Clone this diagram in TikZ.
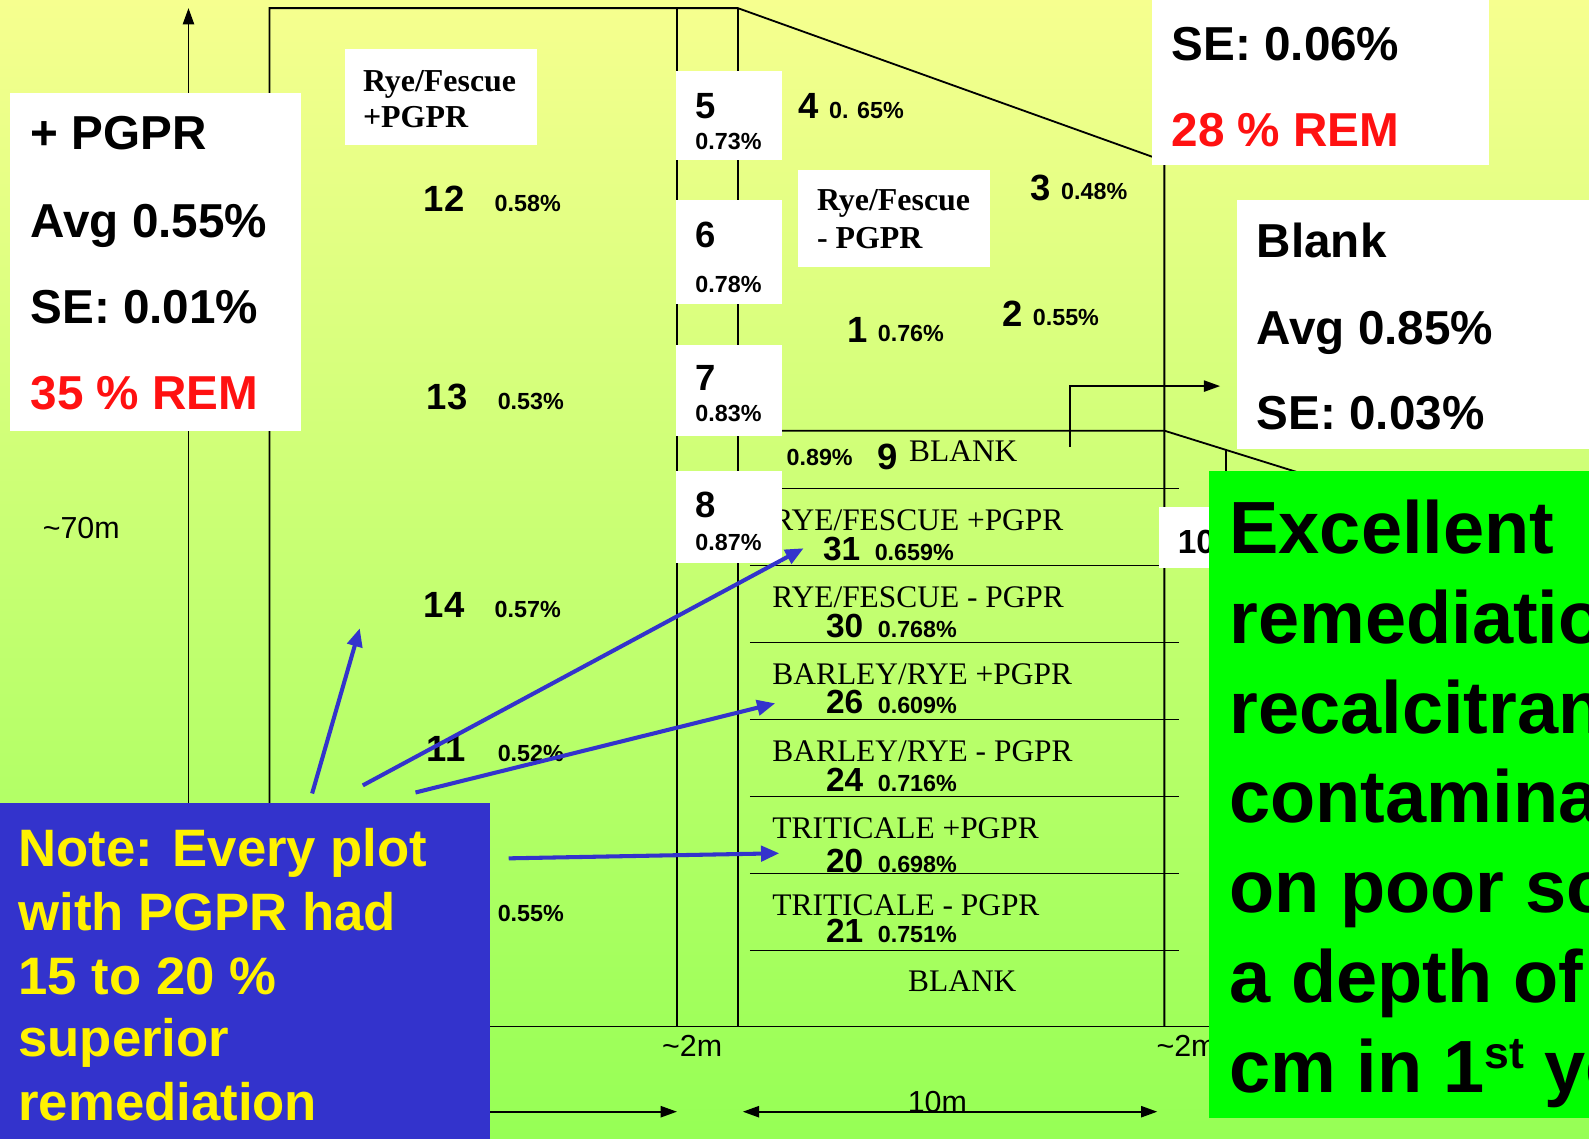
\documentclass[tikz,border=0pt]{standalone}
\usepackage{fontspec}
\setmainfont{Liberation Serif}
\newfontfamily\arialf{Liberation Sans}
\usetikzlibrary{arrows.meta}
\definecolor{bgtop}{RGB}{246,255,143}
\definecolor{bgmid}{RGB}{208,255,118}
\definecolor{bgbot}{RGB}{150,255,85}
\definecolor{noteblue}{RGB}{51,51,204}
\definecolor{remred}{RGB}{255,17,17}
\definecolor{exgreen}{RGB}{0,255,0}
\begin{document}
\begin{tikzpicture}[x=1pt,y=-1pt,
  plan/.style={line width=1.8pt,draw=black},
  wbox/.style={fill=white,draw=none,inner sep=0pt,anchor=north west},
  big/.style={font=\arialf\bfseries\fontsize{47}{50}\selectfont,anchor=base west,inner sep=0pt},
  num/.style={font=\arialf\bfseries\fontsize{36}{38}\selectfont,anchor=base west,inner sep=0pt},
  rnum/.style={font=\arialf\bfseries\fontsize{33}{35}\selectfont,anchor=base west,inner sep=0pt},
  pct/.style={font=\arialf\bfseries\fontsize{23}{25}\selectfont,anchor=base west,inner sep=0pt},
  rowlab/.style={font=\fontsize{31}{33}\selectfont,anchor=base west,inner sep=0pt},
  boxlab/.style={font=\bfseries\fontsize{31.5}{34}\selectfont,anchor=base west,inner sep=0pt},
  dimlab/.style={font=\arialf\fontsize{30}{32}\selectfont,inner sep=0pt},
  notetxt/.style={font=\arialf\bfseries\fontsize{52}{55}\selectfont,text=yellow,anchor=base west,inner sep=0pt},
  exc/.style={font=\arialf\bfseries\fontsize{73}{80}\selectfont,anchor=base west,inner sep=0pt},
  barrow/.style={draw=noteblue,line width=4pt,-{Triangle[length=18pt,width=15pt]}},
  karrow/.style={line width=1.8pt,-{Triangle[length=16pt,width=11pt]}},
  kdarrow/.style={line width=1.8pt,{Triangle[length=16pt,width=11pt]}-{Triangle[length=16pt,width=11pt]}},
]
\useasboundingbox (0,0) rectangle (1568,1123);
\clip (0,0) rectangle (1568,1123);
\shade[top color=bgtop, middle color=bgmid, bottom color=bgbot] (0,0) rectangle (1568,1123);

% ---- field plan lines
\coordinate (tl) at (266,8);
\coordinate (tm) at (728,8);
\coordinate (dr) at (1149,159);
\draw[plan] (266,1013) -- (tl) -- (tm) -- (dr) -- (1149,1013);
\draw[plan] (668,8) -- (668,1013);
\draw[plan] (728,8) -- (728,1013);
\draw[plan] (266,1013) -- (1240,1013);
\draw[plan] (728,425) -- (1149,425) -- (1290,469);
\draw[plan] (1210,444) -- (1210,470);
\foreach \yy in {482,558,634,710,786,862,938}
  \draw[plan] (740,\yy) -- (1163,\yy);

% ---- dimension arrows
\coordinate (vbot) at (186,1110);
\coordinate (vtop) at (186,8);
\draw[karrow] (vbot) -- (vtop);
\coordinate (hl) at (270,1097);
\coordinate (hr) at (668,1097);
\draw[karrow] (hl) -- (hr);
\coordinate (tl2) at (733,1097);
\coordinate (tr2) at (1142,1097);
\draw[kdarrow] (tl2) -- (tr2);
\node[dimlab,anchor=base west] (d70) at (42,531) {\textasciitilde70m};
\node[dimlab,anchor=base] (d2a) at (683,1043) {\textasciitilde2m};
\node[dimlab,anchor=base west] (d2b) at (1141,1043) {\textasciitilde2m};
\node[dimlab,anchor=base] (d10) at (925,1098) {10m};

% ---- blank arrow
\coordinate (bk1) at (1056,441);
\coordinate (bk2) at (1056,381);
\coordinate (bk3) at (1204,381);
\draw[karrow] (bk1) -- (bk2) -- (bk3);

% ---- white boxes
\node[wbox,minimum width=287pt,minimum height=333pt] (pbox) at (10,92) {};
\node[big] (p1) at (30,148) {+ PGPR};
\node[big] (p2) at (30,234) {Avg 0.55\%};
\node[big] (p3) at (30,319) {SE: 0.01\%};
\node[big,text=remred] (p4) at (30,404) {35 \% REM};

\node[wbox,minimum width=190pt,minimum height=95pt] (rfp) at (340,48) {};
\node[boxlab] (rfp1) at (358,90) {Rye/Fescue};
\node[boxlab] (rfp2) at (358,126) {+PGPR};

\node[wbox,minimum width=190pt,minimum height=95pt] (rfm) at (787,168) {};
\node[boxlab] (rfm1) at (806,208) {Rye/Fescue};
\node[boxlab] (rfm2) at (806,245) {- PGPR};

\node[wbox,minimum width=332pt,minimum height=170pt] (sebox) at (1137,-7) {};
\node[big] (se1) at (1156,60) {SE: 0.06\%};
\node[big,text=remred] (se2) at (1156,145) {28 \% REM};

\node[wbox,minimum width=380pt,minimum height=246pt] (blbox) at (1220,197) {};
\node[big] (bl1) at (1240,254) {Blank};
\node[big] (bl2) at (1240,340) {Avg 0.85\%};
\node[big] (bl3) at (1240,424) {SE: 0.03\%};

\node[wbox,minimum width=104pt,minimum height=88pt] (b5) at (667,70) {};
\node[num] (n5) at (686,117) {5};
\node[pct] (q5) at (686,148) {0.73\%};
\node[wbox,minimum width=104pt,minimum height=103pt] (b6) at (667,197) {};
\node[num] (n6) at (686,244) {6};
\node[pct] (q6) at (686,289) {0.78\%};
\node[wbox,minimum width=104pt,minimum height=90pt] (b7) at (667,340) {};
\node[num] (n7) at (686,385) {7};
\node[pct] (q7) at (686,416) {0.83\%};
\node[wbox,minimum width=104pt,minimum height=90pt] (b8) at (667,465) {};
\node[num] (n8) at (686,511) {8};
\node[pct] (q8) at (686,543) {0.87\%};

\node[wbox,minimum width=70pt,minimum height=60pt] (b10) at (1143,500) {};
\node[rnum] (n10) at (1162,546) {10};

% ---- plot numbers on background
\node[num] (n12) at (418,209) {12};  \node[pct] (q12) at (488,209) {0.58\%};
\node[num] (n13) at (421,404) {13};  \node[pct] (q13) at (491,404) {0.53\%};
\node[num] (n14) at (418,609) {14};  \node[pct] (q14) at (488,609) {0.57\%};
\node[num] (n11) at (421,751) {11};  \node[pct] (q11) at (491,751) {0.52\%};
\node[pct] (q15) at (491,909) {0.55\%};
\node[num] (n4) at (788,117) {4};    \node[pct] (q4) at (818,117) {0. 65\%};
\node[num] (n3) at (1017,198) {3};   \node[pct] (q3) at (1047,197) {0.48\%};
\node[num] (n1) at (836,338) {1};    \node[pct] (q1) at (866,337) {0.76\%};
\node[num] (n2) at (989,322) {2};    \node[pct] (q2) at (1019,321) {0.55\%};
\node[pct] (q9) at (776,459) {0.89\%};
\node[num] (n9) at (866,463) {9};
\node[rowlab] (r9) at (897,455) {BLANK};

% ---- strip rows
\begin{scope}
\clip (772,482) rectangle (1200,1013);
\node[rowlab] (r31) at (762,523) {RYE/FESCUE +PGPR};
\end{scope}
\node[rnum] (n31) at (812,553) {31};  \node[pct] (q31) at (863,553) {0.659\%};
\node[rowlab] (r30) at (762,599) {RYE/FESCUE - PGPR};
\node[rnum] (n30) at (815,629) {30};  \node[pct] (q30) at (866,629) {0.768\%};
\node[rowlab] (r26) at (762,675) {BARLEY/RYE +PGPR};
\node[rnum] (n26) at (815,704) {26};  \node[pct] (q26) at (866,704) {0.609\%};
\node[rowlab] (r24) at (762,751) {BARLEY/RYE - PGPR};
\node[rnum] (n24) at (815,781) {24};  \node[pct] (q24) at (866,781) {0.716\%};
\node[rowlab] (r20) at (762,827) {TRITICALE +PGPR};
\node[rnum] (n20) at (815,861) {20};  \node[pct] (q20) at (866,861) {0.698\%};
\node[rowlab] (r21) at (762,903) {TRITICALE - PGPR};
\node[rnum] (n21) at (815,930) {21};  \node[pct] (q21) at (866,930) {0.751\%};
\node[rowlab] (rbl) at (896,978) {BLANK};

% ---- blue arrows
\coordinate (a1s) at (308,783); \coordinate (a1e) at (355,620);
\coordinate (a2s) at (358,775); \coordinate (a2e) at (793,541);
\coordinate (a3s) at (410,782); \coordinate (a3e) at (765,694);
\coordinate (a4s) at (502,847); \coordinate (a4e) at (769,842);
\draw[barrow] (a1s) -- (a1e);
\draw[barrow] (a2s) -- (a2e);
\draw[barrow] (a3s) -- (a3e);
\draw[barrow] (a4s) -- (a4e);

% ---- note box
\node[fill=noteblue,draw=none,inner sep=0pt,anchor=north west,minimum width=483pt,minimum height=340pt] (notebox) at (0,792) {};
\node[notetxt] (t1) at (18,855) {Note: Every plot};
\node[notetxt] (t2) at (18,918) {with PGPR had};
\node[notetxt] (t3) at (18,981) {15 to 20 \%};
\node[notetxt] (t4) at (18,1043) {superior};
\node[notetxt] (t5) at (18,1106) {remediation};

% ---- green box
\node[fill=exgreen,draw=none,inner sep=0pt,anchor=north west,minimum width=400pt,minimum height=638pt] (gbox) at (1193,465) {};
\node[exc] (e1) at (1213,546) {Excellent};
\node[exc] (e2) at (1213,635) {remediation};
\node[exc] (e3) at (1213,724) {recalcitrant};
\node[exc] (e4) at (1213,812) {contaminants};
\node[exc] (e5) at (1213,900) {on poor soil};
\node[exc] (e6) at (1213,989) {a depth of};
\node[exc] (e7) at (1213,1078) {cm in 1\raisebox{0.33em}{\fontsize{44}{44}\selectfont st} year};
\end{tikzpicture}
\end{document}
